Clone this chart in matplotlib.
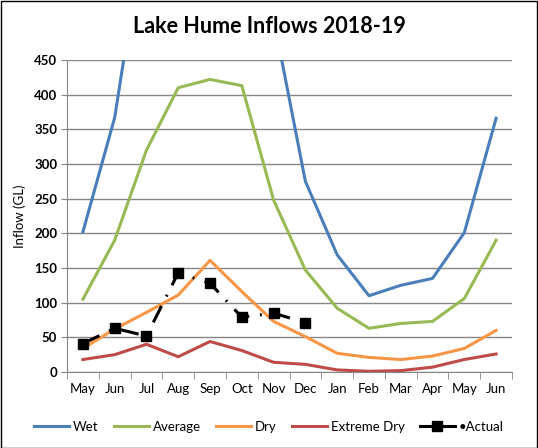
import matplotlib
matplotlib.use("Agg")
import matplotlib.pyplot as plt
from matplotlib.patches import Rectangle
from matplotlib.lines import Line2D
import numpy as np

months = ["May", "Jun", "Jul", "Aug", "Sep", "Oct", "Nov", "Dec", "Jan", "Feb", "Mar", "Apr", "May", "Jun"]
wet = [202, 367, 660, 900, 950, 850, 510, 275, 169, 110, 125, 135, 201, 366]
average = [105, 190, 320, 410, 422, 413, 248, 147, 92, 63, 70, 73, 106, 190]
dry = [34, 62, 86, 111, 161, 116, 73, 51, 27, 21, 18, 23, 34, 60]
extreme_dry = [18, 25, 40, 22, 44, 31, 14, 11, 3, 1, 2, 7, 18, 26]
actual = [41, 63, 52, 143, 128, 79, 85, 71]
yticks = [0, 50, 100, 150, 200, 250, 300, 350, 400, 450]

plt.rcParams['font.family'] = ['Lato', 'DejaVu Sans']

fig = plt.figure(figsize=(5.38, 4.48), dpi=100)
ax = fig.add_axes([67/538, 1-372/448, (512-67)/538, (372-60)/448])

x = np.arange(len(months))
ax.plot(x, wet, color="#4A7EBB", lw=2.2, label="Wet")
ax.plot(x, average, color="#98B954", lw=2.2, label="Average")
ax.plot(x, dry, color="#F79646", lw=2.2, label="Dry")
ax.plot(x, extreme_dry, color="#BE4B48", lw=2.2, label="Extreme Dry")
xa = np.arange(len(actual))
ax.plot(xa, actual, color="black", lw=2.2, linestyle=(0, (6, 3.5, 0.6, 3.5)),
        marker="s", markersize=7, label="Actual")

ax.set_xlim(-0.5, len(months) - 0.5)
ax.set_ylim(0, 450)
ax.set_yticks(yticks)
ax.set_yticklabels([str(v) for v in yticks], fontweight="bold", fontsize=9.5)
ax.set_xticks(x)
ax.set_xticklabels(months, fontsize=9.5)
ax.set_xticks(np.arange(len(months) + 1) - 0.5, minor=True)
ax.tick_params(axis="x", which="major", length=0, pad=8)
ax.tick_params(axis="x", which="minor", length=5, color="#868686", direction="out")
ax.tick_params(axis="y", length=4, color="#868686", direction="out", pad=3)
ax.yaxis.grid(True, color="#868686", lw=1)
ax.set_axisbelow(True)
for s in ["top", "right"]:
    ax.spines[s].set_visible(False)
ax.spines["left"].set_color("#868686")
ax.spines["bottom"].set_color("#868686")
ax.set_ylabel("Inflow (GL)", fontsize=9.5, labelpad=6)

fig.suptitle("Lake Hume Inflows 2018-19", fontsize=15.5, fontweight="bold", y=0.965)

handles, labels = ax.get_legend_handles_labels()
labels = ["Wet", "Average", "Dry", "Extreme Dry", "\u2022Actual"]
handles[-1] = Line2D([0], [0], color="black", lw=2.2, marker="s", markersize=7,
                     markevery=[1], linestyle="-")
fig.legend(handles, labels, loc="center", bbox_to_anchor=(0.5, 1-427/448), ncol=5,
           frameon=False, fontsize=9.5, handlelength=2.6, columnspacing=1.2, handletextpad=0.3)

fig.patches.append(Rectangle((0.001, 0.001), 0.997, 0.996, transform=fig.transFigure,
                             fill=False, edgecolor="black", lw=1))
fig.savefig("out.png", dpi=100)
